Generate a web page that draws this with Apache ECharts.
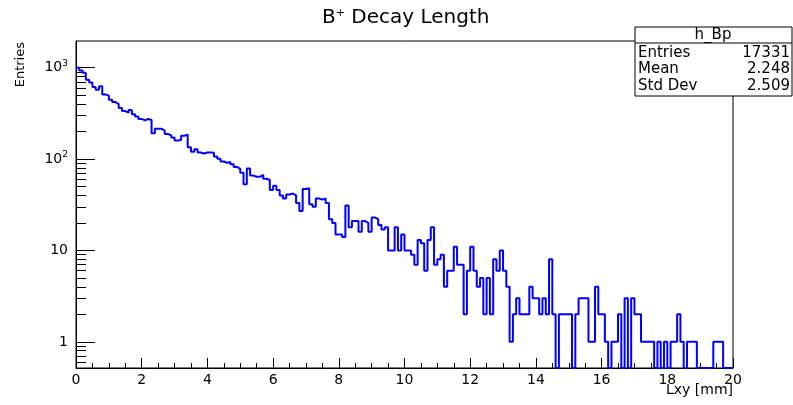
<!DOCTYPE html>
<html>
<head>
<meta charset="utf-8">
<title>B+ Decay Length</title>
<script src="https://cdn.jsdelivr.net/npm/echarts@6/dist/echarts.min.js"></script>
<style>
  html, body { margin: 0; padding: 0; background: #fff; }
  #histogram { width: 793px; height: 405px; }
</style>
</head>
<body>
<div id="histogram"></div>
<script>
// h_Bp bin contents, 200 bins of 0.1 mm from 0 to 20 mm
var counts0to5 = [1000, 930, 880, 740, 690, 615, 575, 625, 510, 495,
  445, 420, 400, 362, 335, 322, 345, 310, 292, 275,
  265, 275, 268, 192, 215, 215, 205, 188, 182, 172,
  160, 162, 180, 185, 135, 120, 128, 118, 115, 118,
  118, 117, 107, 101, 94, 91, 93, 88, 82, 78];
var counts5to10 = [71, 53, 79, 66, 64, 64, 67, 61, 59, 46,
  51, 46, 40, 37, 41, 42, 40, 33, 27, 47,
  48, 32, 30, 37, 36, 37, 33, 22, 20, 15,
  15, 14, 31, 18, 21, 21, 16, 21, 20, 16,
  23, 22, 19, 17, 18, 10, 10, 18, 10, 15];
var counts10to15 = [10, 10, 9, 7, 13, 12, 6, 13, 18, 7,
  8, 9, 4, 6, 6, 11, 7, 7, 2, 6,
  11, 6, 4, 5, 2, 5, 2, 8, 6, 10,
  6, 4, 1, 2, 3, 2, 2, 2, 4, 3,
  3, 2, 3, 2, 8, 2, 0, 2, 2, 2];
var counts15to20 = [2, 0, 2, 3, 3, 3, 1, 1, 4, 2,
  2, 1, 0, 1, 1, 2, 0, 3, 0, 3,
  2, 2, 1, 1, 1, 1, 0, 1, 0, 1,
  0, 1, 1, 2, 1, 0, 1, 1, 1, 0,
  0, 0, 0, 0, 1, 1, 1, 0, 0, 0];
var binWidth = 0.1;

// log axis decades and their labels
var yDecades = [1, 10, 100, 1000];
var yLabels = ['1', '10', '10{sup|2}', '10{sup|3}'];

// stats box
var statNames = ['Entries', 'Mean', 'Std Dev'];
var statValues = ['17331', '2.248', '2.509'];

var yMin = 0.5176, yMax = 1959;
var counts = counts0to5.concat(counts5to10, counts10to15, counts15to20);

// step outline, empty bins drop to the bottom of the frame
var stepData = counts.map(function (c, i) {
  return [i * binWidth, c > 0 ? c : yMin];
});
stepData.push([counts.length * binWidth, stepData[stepData.length - 1][1]]);

// minor ticks 2..9 in every decade
var minorTicks = [];
[0.1, 1, 10, 100, 1000].forEach(function (d) {
  for (var k = 2; k <= 9; k++) {
    var v = k * d;
    if (v > yMin && v < yMax) minorTicks.push(v);
  }
});

var font = 'DejaVu Sans';
var boxFont = '15px "DejaVu Sans"';
var chart = echarts.init(document.getElementById('histogram'));

var statGraphics = [
  { type: 'rect', z: 100, shape: { x: 635, y: 27, width: 157, height: 69 },
    style: { fill: '#fff', stroke: '#000', lineWidth: 1 } },
  { type: 'line', z: 101, shape: { x1: 635, y1: 43, x2: 792, y2: 43 },
    style: { stroke: '#000', lineWidth: 1 } },
  { type: 'text', z: 101, x: 713, y: 35,
    style: { text: 'h_Bp', font: boxFont, fill: '#000',
      align: 'center', verticalAlign: 'middle', textAlign: 'center', textVerticalAlign: 'middle' } }
];
statNames.forEach(function (name, i) {
  var y = 53 + i * 16.5;
  statGraphics.push({ type: 'text', z: 101, x: 638, y: y,
    style: { text: name, font: boxFont, fill: '#000',
      align: 'left', verticalAlign: 'middle', textAlign: 'left', textVerticalAlign: 'middle' } });
  statGraphics.push({ type: 'text', z: 101, x: 790, y: y,
    style: { text: statValues[i], font: boxFont, fill: '#000',
      align: 'right', verticalAlign: 'middle', textAlign: 'right', textVerticalAlign: 'middle' } });
});

var option = {
  animation: false,
  title: {
    text: 'B{sup|+} Decay Length',
    left: 317,
    top: 3,
    textStyle: {
      fontFamily: font, fontSize: 20, fontWeight: 'normal', color: '#000',
      rich: { sup: { fontFamily: font, fontSize: 11, color: '#000', padding: [0, 0, 9, 0] } }
    }
  },
  grid: {
    left: 76, right: 60, top: 41, bottom: 37,
    show: true, borderColor: '#000', borderWidth: 1, backgroundColor: 'transparent'
  },
  xAxis: {
    type: 'value', min: 0, max: 20, interval: 2,
    axisLine: { onZero: false, lineStyle: { color: '#000', width: 1 } },
    axisTick: { inside: true, length: 10, lineStyle: { color: '#000' } },
    minorTick: { show: true, splitNumber: 4, length: 5, lineStyle: { color: '#000' } },
    axisLabel: { margin: 5, color: '#000', fontSize: 14, fontFamily: font,
      showMinLabel: true, showMaxLabel: true },
    splitLine: { show: false }
  },
  yAxis: [{
    type: 'log', logBase: 10, min: yMin, max: yMax,
    axisLine: { show: true, onZero: false, lineStyle: { color: '#000', width: 1 } },
    axisTick: { inside: true, length: 19, customValues: yDecades, lineStyle: { color: '#000' } },
    axisLabel: {
      customValues: yDecades, margin: 8, color: '#000', fontSize: 14, fontFamily: font,
      formatter: function (v) {
        return yLabels[Math.round(Math.log(v) / Math.LN10)];
      },
      rich: { sup: { fontFamily: font, fontSize: 9, color: '#000', padding: [0, 0, 8, 0] } }
    },
    splitLine: { show: false }
  }, {
    type: 'log', logBase: 10, min: yMin, max: yMax, position: 'left',
    axisLine: { show: false },
    axisLabel: { show: false },
    axisTick: { inside: true, length: 10, customValues: minorTicks, lineStyle: { color: '#000' } },
    splitLine: { show: false }
  }],
  graphic: [
    { type: 'text', x: 21, y: 42, rotation: Math.PI / 2,
      style: { text: 'Entries', font: '13px "DejaVu Sans"', fill: '#000',
        align: 'right', verticalAlign: 'middle', textAlign: 'right', textVerticalAlign: 'middle' } },
    { type: 'text', x: 733, y: 390,
      style: { text: 'Lxy [mm]', font: '14px "DejaVu Sans"', fill: '#000',
        align: 'right', verticalAlign: 'middle', textAlign: 'right', textVerticalAlign: 'middle' } }
  ].concat(statGraphics),
  series: [{
    name: 'h_Bp',
    type: 'line',
    step: 'end',
    data: stepData,
    symbol: 'none',
    clip: true,
    lineStyle: { color: '#0000ff', width: 2 }
  }]
};

chart.setOption(option);
</script>
</body>
</html>
